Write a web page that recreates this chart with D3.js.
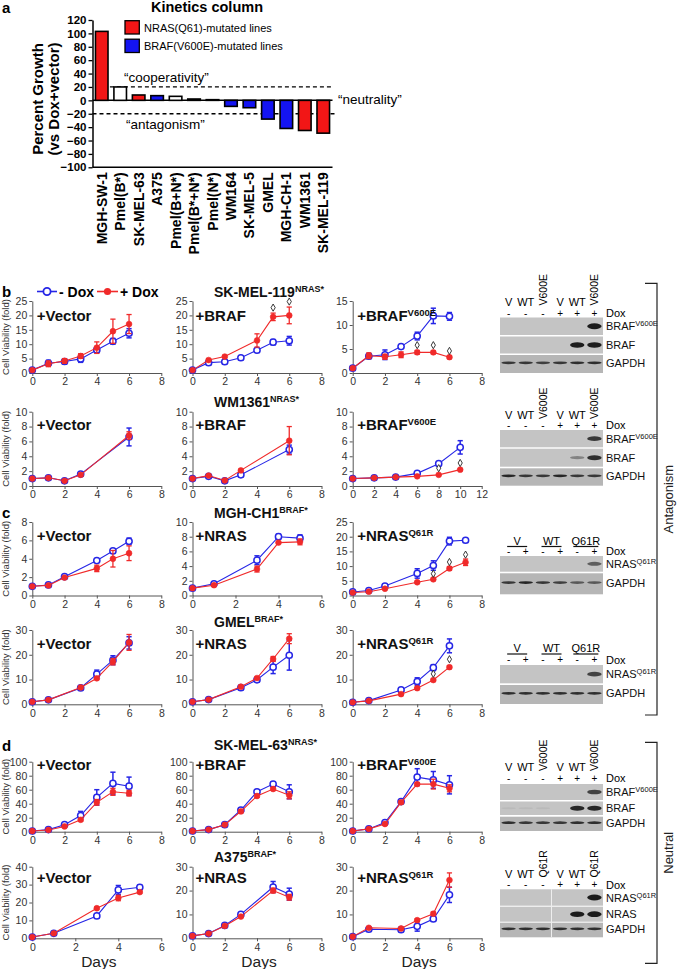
<!DOCTYPE html>
<html>
<head>
<meta charset="utf-8">
<script src="https://cdn.jsdelivr.net/npm/d3@7"></script>
<style>
body { margin: 0; background: #fff; }
</style>
</head>
<body>
<script>
// ---------- panel a : kinetics column
var cellLines = ["MGH-SW-1", "Pmel(B*)", "SK-MEL-63", "A375", "Pmel(B+N*)", "Pmel(B*+N*)", "Pmel(N*)",
                 "WM164", "SK-MEL-5", "GMEL", "MGH-CH-1", "WM1361", "SK-MEL-119"];
var growth = [103, 20, 8, 7, 6, 2, 1, -9, -11, -28, -42, -45, -49];
var mutation = ["N", "O", "N", "B", "O", "O", "O", "B", "B", "B", "B", "N", "N"];
var growthTicks = [120, 100, 80, 60, 40, 20, 0, -20, -40, -60, -80, -100];
var legendA = ["NRAS(Q61)-mutated lines", "BRAF(V600E)-mutated lines"];

// ---------- viability curves (days, -Dox, +Dox)
// b, SK-MEL-119
var b1vDays = [0, 1, 2, 3, 4, 5, 6];
var b1vMinus = [1.0, 3.4, 4.0, 4.9, 8.0, 11.0, 13.8];
var b1vMinusErr = [0.2, 1.0, 0.9, 1.2, 0.9, 1.0, 1.6];
var b1vPlus = [1.0, 3.2, 4.2, 5.9, 8.8, 14.5, 17.0];
var b1vPlusErr = [0.2, 1.0, 0.8, 0.8, 2.0, 4.2, 3.3];

var b1bDays = [0, 1, 2, 3, 4, 5, 6];
var b1bMinus = [1.0, 3.6, 3.9, 5.3, 7.9, 10.7, 11.2];
var b1bMinusErr = [0.2, 0.7, 0.5, 0.3, 0.4, 0.9, 1.5];
var b1bPlusDays = [0, 1, 2, 4, 5, 6];
var b1bPlus = [1.0, 4.5, 5.7, 11.3, 19.5, 20.0];
var b1bPlusErr = [0.2, 0.5, 0.4, 2.3, 1.3, 2.9];
var b1bStarDays = [5, 6];
var b1bStarVals = [22.7, 24.8];

var b1eDays = [0, 1, 2, 3, 4, 5, 6];
var b1eMinus = [1.0, 3.5, 3.8, 5.5, 7.7, 11.9, 11.8];
var b1eMinusErr = [0.2, 0.5, 1.0, 0.3, 0.8, 1.6, 0.8];
var b1ePlus = [1.0, 3.6, 3.4, 3.8, 4.3, 4.3, 3.3];
var b1ePlusErr = [0.2, 0.6, 0.5, 0.6, 0.4, 0.3, 0.3];
var b1eStarDays = [4, 5, 6];
var b1eStarVals = [5.8, 5.8, 4.6];

// b, WM1361
var b2vDays = [0, 1, 2, 3, 6];
var b2vMinus = [1.0, 1.1, 0.7, 1.6, 6.6];
var b2vMinusErr = [0.1, 0.15, 0.1, 0.3, 1.2];
var b2vPlus = [1.0, 1.1, 0.7, 1.5, 6.8];
var b2vPlusErr = [0.1, 0.1, 0.1, 0.2, 0.5];

var b2bDays = [0, 1, 2, 3, 6];
var b2bMinus = [1.0, 1.3, 0.7, 1.5, 4.9];
var b2bMinusErr = [0.1, 0.2, 0.1, 0.2, 0.6];
var b2bPlus = [1.0, 1.4, 0.75, 2.1, 6.1];
var b2bPlusErr = [0.1, 0.15, 0.1, 0.15, 1.9];

var b2eDays = [0, 2, 4, 6, 8, 10];
var b2eMinus = [1.0, 1.1, 1.2, 1.7, 3.0, 5.2];
var b2eMinusErr = [0.1, 0.1, 0.1, 0.15, 0.2, 0.9];
var b2ePlus = [1.0, 1.1, 1.2, 1.3, 1.5, 2.2];
var b2ePlusErr = [0.05, 0.05, 0.05, 0.05, 0.05, 0.1];
var b2eStarDays = [8, 10];
var b2eStarVals = [2.4, 3.1];

// c, MGH-CH1
var c1vDays = [0, 1, 2, 4, 5, 6];
var c1vMinus = [1.0, 1.15, 2.05, 3.8, 4.85, 5.9];
var c1vMinusErr = [0.05, 0.1, 0.1, 0.1, 0.1, 0.35];
var c1vPlus = [1.0, 1.1, 1.95, 2.95, 4.0, 4.6];
var c1vPlusErr = [0.05, 0.05, 0.1, 0.35, 0.9, 0.8];

var c1nDays = [0, 1, 3, 4, 5];
var c1nMinus = [1.0, 1.6, 4.8, 8.0, 7.8];
var c1nMinusErr = [0.1, 0.15, 0.6, 0.35, 0.45];
var c1nPlus = [1.0, 1.4, 3.6, 7.2, 7.3];
var c1nPlusErr = [0.05, 0.1, 0.4, 0.1, 0.4];

var c1qDays = [0, 1, 2, 4, 5, 6, 7];
var c1qMinus = [1.2, 1.7, 3.2, 7.5, 10.2, 18.5, 18.8];
var c1qMinusErr = [0.3, 0.3, 0.4, 1.6, 1.6, 1.3, 0.5];
var c1qPlus = [1.0, 1.3, 2.3, 4.5, 5.5, 9.2, 11.3];
var c1qPlusErr = [0.2, 0.2, 0.2, 0.3, 0.4, 0.6, 1.1];
var c1qStarDays = [5, 6, 7];
var c1qStarVals = [7.4, 11.4, 13.9];

// c, GMEL
var c2vDays = [0, 1, 3, 4, 5, 6];
var c2vMinus = [1.0, 1.8, 6.6, 12.2, 17.8, 24.8];
var c2vMinusErr = [0.2, 0.3, 0.6, 1.6, 1.8, 2.5];
var c2vPlus = [1.0, 1.8, 6.8, 10.5, 17.2, 25.0];
var c2vPlusErr = [0.2, 0.3, 0.5, 0.5, 1.3, 3.2];

var c2nDays = [0, 1, 3, 4, 5, 6];
var c2nMinus = [1.0, 1.9, 6.7, 9.9, 15.0, 19.8];
var c2nMinusErr = [0.2, 0.3, 0.7, 0.8, 2.6, 6.0];
var c2nPlus = [1.0, 1.9, 7.1, 10.6, 18.3, 26.5];
var c2nPlusErr = [0.1, 0.2, 0.3, 0.4, 1.0, 2.0];

var c2qDays = [0, 1, 3, 4, 5, 6];
var c2qMinus = [0.8, 1.5, 5.8, 9.2, 14.8, 23.6];
var c2qMinusErr = [0.2, 0.3, 0.5, 1.5, 1.2, 2.8];
var c2qPlus = [0.8, 1.4, 4.1, 6.5, 9.8, 15.0];
var c2qPlusErr = [0.1, 0.1, 0.3, 0.3, 0.4, 0.6];
var c2qStarDays = [5, 6];
var c2qStarVals = [12.3, 18.2];

// d, SK-MEL-63
var d1vDays = [0, 1, 2, 3, 4, 5, 6];
var d1vMinus = [1, 3, 10, 23, 49, 69, 65];
var d1vMinusErr = [0.5, 1, 2, 6, 11, 16, 13];
var d1vPlus = [1, 2.5, 7.5, 17, 42, 57, 55];
var d1vPlusErr = [0.3, 0.5, 1, 2, 4, 5, 4];

var d1bDays = [0, 1, 2, 3, 4, 5, 6];
var d1bMinus = [1, 3, 10, 31, 57, 68, 57];
var d1bMinusErr = [0.5, 0.8, 1.5, 2.5, 2, 3, 10];
var d1bPlus = [1, 3, 10, 29, 51, 61, 52];
var d1bPlusErr = [0.3, 0.5, 1, 2, 2, 2, 5];

var d1eDays = [0, 1, 2, 3, 4, 5, 6];
var d1eMinus = [1, 4, 13, 43, 78, 74, 67];
var d1eMinusErr = [0.5, 0.5, 1.5, 2, 12, 12, 13];
var d1ePlus = [1, 4, 11, 42, 68, 68, 62];
var d1ePlusErr = [0.3, 0.5, 1, 2, 2, 7, 5];

// d, A375
var d2vDays = [0, 1, 3, 4, 5];
var d2vMinus = [0.7, 2.8, 12.5, 27.0, 28.5];
var d2vMinusErr = [0.2, 0.3, 0.5, 2.5, 1.2];
var d2vPlus = [0.7, 2.8, 16.8, 22.5, 25.8];
var d2vPlusErr = [0.2, 0.3, 0.6, 1.5, 0.6];

var d2nDays = [0, 1, 2, 3, 5, 6];
var d2nMinus = [1.0, 2.0, 5.4, 10.0, 21.5, 18.5];
var d2nMinusErr = [0.2, 0.3, 0.4, 0.5, 2.3, 2.5];
var d2nPlus = [1.0, 2.0, 5.2, 9.1, 20.0, 17.2];
var d2nPlusErr = [0.2, 0.3, 0.4, 0.4, 1.0, 1.2];

var d2qDays = [0, 1, 3, 4, 5, 6];
var d2qMinus = [0.7, 3.8, 3.6, 5.0, 8.1, 18.2];
var d2qMinusErr = [0.2, 0.3, 0.4, 2.0, 0.5, 3.2];
var d2qPlus = [0.7, 4.4, 4.1, 7.6, 10.3, 24.4];
var d2qPlusErr = [0.2, 0.3, 0.4, 0.5, 0.7, 3.0];

var ticks6 = [0, 2, 4, 6];
var ticks8 = [0, 2, 4, 6, 8];
var ticks12 = [0, 2, 4, 6, 8, 10, 12];

var cellTitles = ["SK-MEL-119", "WM1361", "MGH-CH1", "GMEL", "SK-MEL-63", "A375"];
var cellTitleSup = ["NRAS*", "NRAS*", "BRAF*", "BRAF*", "NRAS*", "BRAF*"];

// ---------- western blots
var lanesBraf = ["V", "WT", "V600E", "V", "WT", "V600E"];
var lanesNras = ["V", "WT", "Q61R", "V", "WT", "Q61R"];
var doxSplit = ["-", "-", "-", "+", "+", "+"];
var groupsNras = ["V", "WT", "Q61R"];
var doxPaired = ["-", "+", "-", "+", "-", "+"];

var b1BandMut = [0, 0, 0, 0, 0, 1];
var b1BandBraf = [0, 0, 0, 0, 0.95, 0.9];
var b1BandGapdh = [0.75, 0.75, 0.7, 0.75, 0.8, 0.8];
var b2BandMut = [0, 0, 0, 0, 0, 0.75];
var b2BandBraf = [0, 0, 0, 0, 0.35, 0.8];
var b2BandGapdh = [0.85, 0.75, 0.75, 0.85, 0.75, 0.75];
var c1BandMut = [0, 0, 0, 0, 0, 0.55];
var c1BandGapdh = [0.75, 0.85, 0.75, 0.7, 0.55, 0.55];
var c2BandMut = [0, 0, 0, 0, 0, 0.7];
var c2BandGapdh = [0.8, 0.8, 0.8, 0.8, 0.8, 0.8];
var d1BandMut = [0, 0, 0, 0, 0, 0.7];
var d1BandBraf = [0.05, 0.05, 0.05, 0, 0.85, 0.85];
var d1BandGapdh = [0.8, 0.75, 0.75, 0.75, 0.8, 0.8];
var d2BandMut = [0, 0, 0, 0, 0, 1];
var d2BandNras = [0, 0, 0, 0, 0.95, 1];
var d2BandGapdh = [0.8, 0.8, 0.8, 0.8, 0.8, 0.8];

var stripsBraf = [["BRAF", "V600E"], ["BRAF", ""], ["GAPDH", ""]];
var stripsNrasMut = [["NRAS", "Q61R"], ["GAPDH", ""]];
var stripsNras = [["NRAS", "Q61R"], ["NRAS", ""], ["GAPDH", ""]];

// ================= drawing
var FONT = '"Liberation Sans", Arial, Helvetica, sans-serif';
var RED = '#f02a2a', BLUE = '#2626e6';

var svg = d3.select('body').append('svg')
  .attr('width', 677).attr('height', 969)
  .style('font-family', FONT);

function supText(sel, x, y, main, sup, size, supSize, weight, anchor) {
  var t = sel.append('text').attr('x', x).attr('y', y)
    .attr('font-size', size).attr('font-weight', weight || 'normal')
    .attr('text-anchor', anchor || 'start').attr('fill', '#111');
  t.append('tspan').text(main);
  if (sup) t.append('tspan').attr('font-size', supSize).attr('dy', -size * 0.36).text(sup);
  return t;
}

function panelLetter(l, x, y) {
  svg.append('text').attr('x', x).attr('y', y).attr('font-size', 15)
    .attr('font-weight', 'bold').text(l);
}

// ----- panel a
panelLetter('a', 2, 13);
var aX = d3.scaleBand().domain(cellLines).range([92.5, 332.5]).paddingInner(0.32).paddingOuter(0.16);
var aY = d3.scaleLinear().domain([-100, 120]).range([167.3, 20]);
var mutColor = { N: '#f21616', B: '#1414f2', O: '#ffffff' };
var ga = svg.append('g');

ga.append('text').attr('x', 207).attr('y', 12).attr('text-anchor', 'middle')
  .attr('font-size', 14.5).attr('font-weight', 'bold').text('Kinetics column');

ga.append('line').attr('x1', aX.range()[0]).attr('x2', aX.range()[1])
  .attr('y1', aY(0)).attr('y2', aY(0)).attr('stroke', '#000').attr('stroke-width', 1.5);
ga.append('line').attr('x1', aX(cellLines[1]) - 4).attr('x2', aX.range()[1] + 1)
  .attr('y1', aY(20)).attr('y2', aY(20))
  .attr('stroke', '#000').attr('stroke-width', 1.3).attr('stroke-dasharray', '4,3');
ga.append('line').attr('x1', aX.range()[0]).attr('x2', aX.range()[1] + 2)
  .attr('y1', aY(-20)).attr('y2', aY(-20))
  .attr('stroke', '#000').attr('stroke-width', 1.3).attr('stroke-dasharray', '4,3');

ga.selectAll('rect.bar').data(cellLines).enter().append('rect')
  .attr('x', function (d) { return aX(d); })
  .attr('width', aX.bandwidth())
  .attr('y', function (d, i) { return aY(Math.max(0, growth[i])); })
  .attr('height', function (d, i) { return Math.abs(aY(growth[i]) - aY(0)); })
  .attr('fill', function (d, i) { return mutColor[mutation[i]]; })
  .attr('stroke', '#000').attr('stroke-width', 1.6);

var aAxis = ga.append('g').attr('transform', 'translate(' + aX.range()[0] + ',0)')
  .call(d3.axisLeft(aY).tickValues(growthTicks).tickSize(4).tickSizeOuter(0).tickPadding(2));
aAxis.attr('font-family', FONT).attr('font-size', 11.5).attr('font-weight', 'bold');
aAxis.select('.domain').attr('stroke-width', 1.5);
aAxis.selectAll('.tick line').attr('stroke-width', 1.3);

ga.append('line').attr('x1', aX.range()[0]).attr('x2', aX.range()[1])
  .attr('y1', aY(-100)).attr('y2', aY(-100)).attr('stroke', '#000').attr('stroke-width', 1.5);

ga.selectAll('text.xl').data(cellLines).enter().append('text')
  .attr('transform', function (d) {
    return 'translate(' + (aX(d) + aX.bandwidth() / 2 + 5) + ',' + (aY(-100) + 5) + ') rotate(-90)';
  })
  .attr('text-anchor', 'end').attr('font-size', 14).attr('font-weight', 'bold').text(function (d) { return d; });

var yl = ga.append('text').attr('transform', 'translate(43,99) rotate(-90)')
  .attr('text-anchor', 'middle').attr('font-size', 15).attr('font-weight', 'bold');
yl.append('tspan').attr('x', 0).attr('dy', 0).text('Percent Growth');
yl.append('tspan').attr('x', 0).attr('dy', 16).text('(vs Dox+vector)');

ga.selectAll('rect.leg').data(legendA).enter().append('rect')
  .attr('x', 125).attr('y', function (d, i) { return 20.7 + i * 18.5; })
  .attr('width', 14.3).attr('height', 13.3)
  .attr('fill', function (d, i) { return i === 0 ? mutColor.N : mutColor.B; })
  .attr('stroke', '#000').attr('stroke-width', 1.3);
ga.selectAll('text.leg').data(legendA).enter().append('text')
  .attr('x', 144).attr('y', function (d, i) { return 31.5 + i * 18.5; })
  .attr('font-size', 11).text(function (d) { return d; });

ga.append('text').attr('x', 124).attr('y', 82).attr('font-size', 13.5).text('\u201Ccooperativity\u201D');
ga.append('text').attr('x', 338).attr('y', 104).attr('font-size', 13.5).text('\u201Cneutrality\u201D');
ga.append('text').attr('x', 126).attr('y', 129).attr('font-size', 13.5).text('\u201Cantagonism\u201D');

// ----- viability charts
var colX = [32.3, 192.5, 352.7];
var plotW = 129;
var rowTop = [301, 411.7, 522, 630, 761.7, 866.7];
var rowBot = [373, 486, 595.5, 704.3, 831.7, 938.3];
var titleY = [297, 407, 518, 627, 750, 862];
var labelDy = [20, 18.5, 19, 19, 8.5, 16.5];

var charts = [
  { row: 0, col: 0, name: '+Vector', sup: '', xt: ticks8, yt: [0, 5, 10, 15, 20, 25], md: b1vDays, m: b1vMinus, me: b1vMinusErr, pd: b1vDays, p: b1vPlus, pe: b1vPlusErr },
  { row: 0, col: 1, name: '+BRAF', sup: '', xt: ticks8, yt: [0, 5, 10, 15, 20, 25], md: b1bDays, m: b1bMinus, me: b1bMinusErr, pd: b1bPlusDays, p: b1bPlus, pe: b1bPlusErr, sd: b1bStarDays, sv: b1bStarVals },
  { row: 0, col: 2, name: '+BRAF', sup: 'V600E', xt: ticks8, yt: [0, 5, 10, 15], md: b1eDays, m: b1eMinus, me: b1eMinusErr, pd: b1eDays, p: b1ePlus, pe: b1ePlusErr, sd: b1eStarDays, sv: b1eStarVals },
  { row: 1, col: 0, name: '+Vector', sup: '', xt: ticks8, yt: [0, 2, 4, 6, 8, 10], md: b2vDays, m: b2vMinus, me: b2vMinusErr, pd: b2vDays, p: b2vPlus, pe: b2vPlusErr },
  { row: 1, col: 1, name: '+BRAF', sup: '', xt: ticks8, yt: [0, 2, 4, 6, 8, 10], md: b2bDays, m: b2bMinus, me: b2bMinusErr, pd: b2bDays, p: b2bPlus, pe: b2bPlusErr },
  { row: 1, col: 2, name: '+BRAF', sup: 'V600E', xt: ticks12, yt: [0, 2, 4, 6, 8, 10], md: b2eDays, m: b2eMinus, me: b2eMinusErr, pd: b2eDays, p: b2ePlus, pe: b2ePlusErr, sd: b2eStarDays, sv: b2eStarVals },
  { row: 2, col: 0, name: '+Vector', sup: '', xt: ticks8, yt: [0, 2, 4, 6, 8], md: c1vDays, m: c1vMinus, me: c1vMinusErr, pd: c1vDays, p: c1vPlus, pe: c1vPlusErr },
  { row: 2, col: 1, name: '+NRAS', sup: '', xt: ticks6, yt: [0, 2, 4, 6, 8, 10], md: c1nDays, m: c1nMinus, me: c1nMinusErr, pd: c1nDays, p: c1nPlus, pe: c1nPlusErr },
  { row: 2, col: 2, name: '+NRAS', sup: 'Q61R', xt: ticks8, yt: [0, 5, 10, 15, 20, 25], md: c1qDays, m: c1qMinus, me: c1qMinusErr, pd: c1qDays, p: c1qPlus, pe: c1qPlusErr, sd: c1qStarDays, sv: c1qStarVals },
  { row: 3, col: 0, name: '+Vector', sup: '', xt: ticks8, yt: [0, 10, 20, 30], md: c2vDays, m: c2vMinus, me: c2vMinusErr, pd: c2vDays, p: c2vPlus, pe: c2vPlusErr },
  { row: 3, col: 1, name: '+NRAS', sup: '', xt: ticks8, yt: [0, 10, 20, 30], md: c2nDays, m: c2nMinus, me: c2nMinusErr, pd: c2nDays, p: c2nPlus, pe: c2nPlusErr },
  { row: 3, col: 2, name: '+NRAS', sup: 'Q61R', xt: ticks8, yt: [0, 10, 20, 30], md: c2qDays, m: c2qMinus, me: c2qMinusErr, pd: c2qDays, p: c2qPlus, pe: c2qPlusErr, sd: c2qStarDays, sv: c2qStarVals },
  { row: 4, col: 0, name: '+Vector', sup: '', xt: ticks8, yt: [0, 20, 40, 60, 80, 100], md: d1vDays, m: d1vMinus, me: d1vMinusErr, pd: d1vDays, p: d1vPlus, pe: d1vPlusErr },
  { row: 4, col: 1, name: '+BRAF', sup: '', xt: ticks8, yt: [0, 20, 40, 60, 80, 100], md: d1bDays, m: d1bMinus, me: d1bMinusErr, pd: d1bDays, p: d1bPlus, pe: d1bPlusErr },
  { row: 4, col: 2, name: '+BRAF', sup: 'V600E', xt: ticks8, yt: [0, 20, 40, 60, 80, 100], md: d1eDays, m: d1eMinus, me: d1eMinusErr, pd: d1eDays, p: d1ePlus, pe: d1ePlusErr },
  { row: 5, col: 0, name: '+Vector', sup: '', xt: ticks6, yt: [0, 10, 20, 30, 40], md: d2vDays, m: d2vMinus, me: d2vMinusErr, pd: d2vDays, p: d2vPlus, pe: d2vPlusErr },
  { row: 5, col: 1, name: '+NRAS', sup: '', xt: ticks8, yt: [0, 10, 20, 30], md: d2nDays, m: d2nMinus, me: d2nMinusErr, pd: d2nDays, p: d2nPlus, pe: d2nPlusErr },
  { row: 5, col: 2, name: '+NRAS', sup: 'Q61R', xt: ticks8, yt: [0, 10, 20, 30], md: d2qDays, m: d2qMinus, me: d2qMinusErr, pd: d2qDays, p: d2qPlus, pe: d2qPlusErr }
];

function drawSeries(g, x, y, days, vals, errs, color, open) {
  var pts = days.map(function (d, i) { return [d, vals[i], errs[i]]; });
  g.append('path').datum(pts)
    .attr('d', d3.line().x(function (p) { return x(p[0]); }).y(function (p) { return y(p[1]); }))
    .attr('fill', 'none').attr('stroke', color).attr('stroke-width', 1.1);
  var eb = g.append('g').attr('stroke', color).attr('stroke-width', open ? 1.5 : 1.3);
  eb.selectAll('line.v').data(pts).enter().append('line')
    .attr('x1', function (p) { return x(p[0]); }).attr('x2', function (p) { return x(p[0]); })
    .attr('y1', function (p) { return y(p[1] - p[2]); }).attr('y2', function (p) { return y(p[1] + p[2]); });
  [-1, 1].forEach(function (s) {
    eb.selectAll(null).data(pts).enter().append('line')
      .attr('x1', function (p) { return x(p[0]) - 2.6; }).attr('x2', function (p) { return x(p[0]) + 2.6; })
      .attr('y1', function (p) { return y(p[1] + s * p[2]); }).attr('y2', function (p) { return y(p[1] + s * p[2]); });
  });
  g.selectAll(null).data(pts).enter().append('circle')
    .attr('cx', function (p) { return x(p[0]); }).attr('cy', function (p) { return y(p[1]); })
    .attr('r', open ? 3.1 : 2.9)
    .attr('fill', open ? '#fff' : color).attr('stroke', color).attr('stroke-width', open ? 1.5 : 0.6);
}

function drawChart(ch) {
  var x0 = colX[ch.col], yb = rowBot[ch.row], yt = rowTop[ch.row];
  var x = d3.scaleLinear().domain([0, d3.max(ch.xt)]).range([x0, x0 + plotW]);
  var y = d3.scaleLinear().domain([0, d3.max(ch.yt)]).range([yb, yt]);
  var g = svg.append('g');
  var ax = g.append('g').attr('transform', 'translate(0,' + yb + ')')
    .call(d3.axisBottom(x).tickValues(ch.xt).tickFormat(d3.format('d')).tickSize(3).tickSizeOuter(0).tickPadding(2));
  var ay = g.append('g').attr('transform', 'translate(' + x0 + ',0)')
    .call(d3.axisLeft(y).tickValues(ch.yt).tickFormat(d3.format('d')).tickSize(3).tickSizeOuter(0).tickPadding(2));
  [ax, ay].forEach(function (a) {
    a.attr('font-family', FONT).attr('font-size', 10.5);
    a.select('.domain').attr('stroke', '#555');
    a.selectAll('.tick line').attr('stroke', '#555');
    a.selectAll('.tick text').attr('fill', '#333');
  });
  drawSeries(g, x, y, ch.md, ch.m, ch.me, BLUE, true);
  drawSeries(g, x, y, ch.pd, ch.p, ch.pe, RED, false);
  if (ch.sd) {
    g.selectAll('path.star').data(ch.sd).enter().append('path')
      .attr('d', d3.symbol().type(d3.symbolDiamond).size(15))
      .attr('transform', function (d, i) { return 'translate(' + x(d) + ',' + y(ch.sv[i]) + ')'; })
      .attr('fill', '#fff').attr('stroke', '#222').attr('stroke-width', 0.9);
  }
  supText(g, x0 + 4.5 + (ch.col === 1 ? -1.5 : 0), yt + labelDy[ch.row], ch.name, ch.sup, 15, 9.5, 'bold');
  if (ch.col === 0) {
    g.append('text').attr('transform', 'translate(9,' + ((yt + yb) / 2) + ') rotate(-90)')
      .attr('text-anchor', 'middle').attr('font-size', 9.5).attr('fill', '#333')
      .text('Cell Viability (fold)');
  }
  if (ch.row === 5) {
    g.append('text').attr('x', x0 + plotW / 2 + 2).attr('y', 967).attr('text-anchor', 'middle')
      .attr('font-size', 15.5).attr('fill', '#222').text('Days');
  }
}
charts.forEach(drawChart);

cellTitles.forEach(function (t, i) {
  supText(svg, 214, titleY[i], t, cellTitleSup[i], 14, 9, 'bold');
});

panelLetter('b', 2, 297);
panelLetter('c', 2, 518);
panelLetter('d', 2, 751);

// legend of panel b
var lg = svg.append('g');
lg.append('line').attr('x1', 37).attr('x2', 57).attr('y1', 291.5).attr('y2', 291.5).attr('stroke', BLUE).attr('stroke-width', 1.6);
lg.append('circle').attr('cx', 47).attr('cy', 291.5).attr('r', 3.6).attr('fill', '#fff').attr('stroke', BLUE).attr('stroke-width', 1.8);
lg.append('text').attr('x', 59).attr('y', 296.5).attr('font-size', 14).attr('font-weight', 'bold').text('- Dox');
lg.append('line').attr('x1', 97).attr('x2', 118).attr('y1', 291.5).attr('y2', 291.5).attr('stroke', RED).attr('stroke-width', 1.6);
lg.append('circle').attr('cx', 107.5).attr('cy', 291.5).attr('r', 3.6).attr('fill', RED);
lg.append('text').attr('x', 120).attr('y', 296.5).attr('font-size', 14).attr('font-weight', 'bold').text('+ Dox');

// ----- western blots
var blotX0 = 500, blotX1 = 603;
var defs = svg.append('defs');
defs.append('filter').attr('id', 'soft').attr('x', '-30%').attr('y', '-150%').attr('width', '160%').attr('height', '400%')
  .append('feGaussianBlur').attr('stdDeviation', 0.7);

var blots = [
  { kind: 'lanes', lanes: lanesBraf, labelY: 305.5, signY: 316.5, doxY: 316.5, strips: [[317.5, 335], [336.5, 353.5], [355, 373]], bands: [b1BandMut, b1BandBraf, b1BandGapdh], names: stripsBraf },
  { kind: 'lanes', lanes: lanesBraf, labelY: 419, signY: 428.5, doxY: 428.5, strips: [[430, 447.3], [448.7, 466.7], [468.3, 485.7]], bands: [b2BandMut, b2BandBraf, b2BandGapdh], names: stripsBraf },
  { kind: 'groups', labelY: 544.5, lineY: 546.5, signY: 555.3, doxY: 555.3, strips: [[556, 571.7], [573.3, 594.3]], bands: [c1BandMut, c1BandGapdh], names: stripsNrasMut },
  { kind: 'groups', labelY: 652, lineY: 654, signY: 663.3, doxY: 663.5, strips: [[665, 683.3], [685, 704]], bands: [c2BandMut, c2BandGapdh], names: stripsNrasMut },
  { kind: 'lanes', lanes: lanesBraf, labelY: 771, signY: 782.3, doxY: 782.3, strips: [[784, 800], [801.5, 815], [816.7, 831]], bands: [d1BandMut, d1BandBraf, d1BandGapdh], names: stripsBraf },
  { kind: 'lanes', lanes: lanesNras, labelY: 877.5, signY: 887.5, doxY: 889, strips: [[889.3, 905.7], [906.7, 921.7], [922.7, 937.3]], bands: [d2BandMut, d2BandNras, d2BandGapdh], names: stripsNras, split: true }
];

function drawBlot(b) {
  var g = svg.append('g');
  var lane = d3.scaleBand().domain(d3.range(6)).range([blotX0, blotX1]);
  var lc = function (i) { return lane(i) + lane.bandwidth() / 2; };
  var last = b.strips.length - 1;
  b.strips.forEach(function (s, k) {
    g.append('rect').attr('x', blotX0).attr('y', s[0]).attr('width', blotX1 - blotX0).attr('height', s[1] - s[0])
      .attr('fill', k === last ? '#b6b6b6' : '#c4c4c4');
    var mid = (s[0] + s[1]) / 2 - (k === last ? 1.2 : 0);
    var pts = b.bands[k].map(function (v, i) { return { v: v, i: i }; }).filter(function (p) { return p.v > 0; });
    g.selectAll(null).data(pts).enter().append('ellipse')
      .attr('cx', function (p) { return lc(p.i); }).attr('cy', mid)
      .attr('rx', lane.bandwidth() * 0.42)
      .attr('ry', function (p) { return k === last ? 1.4 : 0.9 + 2.0 * p.v; })
      .attr('fill', '#1e1e1e').attr('opacity', function (p) { return Math.min(1, 1.1 * p.v); })
      .attr('filter', 'url(#soft)');
    supText(g, 606, mid + 4, b.names[k][0], b.names[k][1], 11, 7.5, 'normal');
  });
  if (b.split) {
    var sx = (lc(2) + lc(3)) / 2;
    g.append('line').attr('x1', sx).attr('x2', sx).attr('y1', b.strips[0][0]).attr('y2', b.strips[last][1])
      .attr('stroke', '#eee').attr('stroke-width', 1);
  }
  if (b.kind === 'lanes') {
    b.lanes.forEach(function (l, i) {
      if (l.length > 2) {
        g.append('text').attr('transform', 'translate(' + (lc(i) + 3.8) + ',' + b.labelY + ') rotate(-90)')
          .attr('font-size', 10.5).text(l);
      } else {
        g.append('text').attr('x', lc(i)).attr('y', b.labelY).attr('text-anchor', 'middle').attr('font-size', 11).text(l);
      }
    });
    g.selectAll(null).data(doxSplit).enter().append('text')
      .attr('x', function (d, i) { return lc(i); }).attr('y', b.signY).attr('text-anchor', 'middle')
      .attr('font-size', 10).text(function (d) { return d; });
  } else {
    groupsNras.forEach(function (l, j) {
      var cx = (lc(2 * j) + lc(2 * j + 1)) / 2;
      var hw = j === 2 ? 12.5 : 10;
      g.append('text').attr('x', cx).attr('y', b.labelY).attr('text-anchor', 'middle').attr('font-size', 11).text(l);
      g.append('line').attr('x1', cx - hw).attr('x2', cx + hw).attr('y1', b.lineY).attr('y2', b.lineY)
        .attr('stroke', '#111').attr('stroke-width', 1.2);
    });
    g.selectAll(null).data(doxPaired).enter().append('text')
      .attr('x', function (d, i) { return lc(i); }).attr('y', b.signY).attr('text-anchor', 'middle')
      .attr('font-size', 10).text(function (d) { return d; });
  }
  g.append('text').attr('x', 606).attr('y', b.doxY).attr('font-size', 11).text('Dox');
}
blots.forEach(drawBlot);

// ----- brackets
function bracket(y1, y2, label) {
  svg.append('path').attr('d', 'M645,' + y1 + 'H657V' + y2 + 'H645')
    .attr('fill', 'none').attr('stroke', '#222').attr('stroke-width', 1.2);
  svg.append('text').attr('transform', 'translate(673,' + ((y1 + y2) / 2) + ') rotate(-90)')
    .attr('text-anchor', 'middle').attr('font-size', 13).attr('fill', '#222').text(label);
}
bracket(283.3, 715, 'Antagonism');
bracket(742.3, 963.3, 'Neutral');
</script>
</body>
</html>
